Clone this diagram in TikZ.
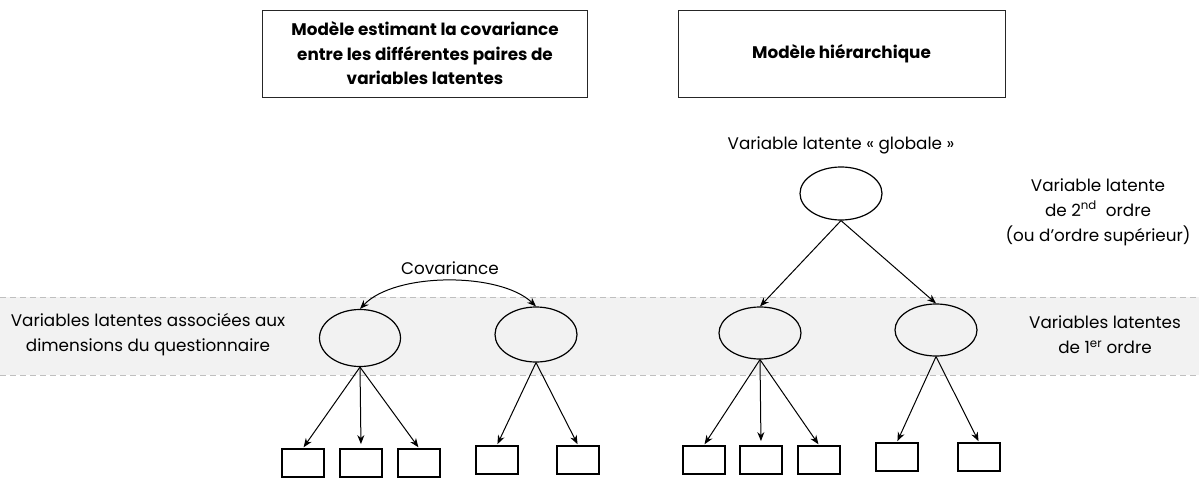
\documentclass[tikz,border=0pt]{standalone}
\usepackage{fontspec}
\setmainfont{Poppins}
\usetikzlibrary{shapes.geometric,arrows.meta}
\definecolor{bandgray}{HTML}{F2F2F2}
\definecolor{dashgray}{HTML}{BFBFBF}
\begin{document}
\begin{tikzpicture}[x=1pt,y=-1pt,
  lat/.style={draw=black,line width=1.2pt,ellipse,inner sep=0pt,minimum width=82pt,minimum height=52pt},
  obs/.style={draw=black,line width=1.8pt,rectangle,inner sep=0pt,minimum width=42pt,minimum height=28pt},
  titlebox/.style={draw=black!85,line width=0.9pt,rectangle,inner sep=0pt,minimum width=325pt,minimum height=87pt,align=center,font=\fontsize{16.8}{24.5}\selectfont\bfseries},
  lbl/.style={align=center,font=\fontsize{16.8}{25}\selectfont,inner sep=0pt},
  arr/.style={-{Stealth[length=9pt,width=7pt]},line width=1pt},
]
\useasboundingbox (0,0) rectangle (1199,479);
% band
\fill[bandgray] (0,297) rectangle (1199,375);
\draw[dashgray,line width=0.9pt,dash pattern=on 6pt off 4pt] (0,297) -- (1199,297);
\draw[dashgray,line width=0.9pt,dash pattern=on 6pt off 4pt] (0,375) -- (1199,375);

% title boxes
\node[titlebox] (t1) at (425,53.5) {Modèle estimant la covariance\\entre les différentes paires de\\variables latentes};
\node[titlebox,minimum width=327pt] (t2) at (841.5,53.5) {Modèle hiérarchique};

% labels
\node[lbl] (lg) at (841,145) {Variable latente «~globale~»};
\node[lbl] (l2) at (1098,212) {Variable latente\\de 2\textsuperscript{nd}~ ordre\\(ou d’ordre supérieur)};
\node[lbl] (l1) at (1105,335) {Variables latentes\\de 1\textsuperscript{er} ordre};
\node[lbl] (ld) at (148,335) {Variables latentes associées aux\\dimensions du questionnaire};
\node[lbl] (lc) at (450,268) {Covariance};

% latent variables
\node[lat,minimum width=81pt,minimum height=57pt] (e1) at (360,338) {};
\node[lat,minimum height=55pt] (e2) at (536,334.5) {};
\node[lat] (e3) at (760,333) {};
\node[lat] (e4) at (936,330) {};
\node[lat,minimum height=53pt] (eg) at (841,193.5) {};

% observed
\node[obs] (a1) at (303,463) {};
\node[obs] (a2) at (361,463) {};
\node[obs] (a3) at (419,463) {};
\node[obs] (a4) at (497,460) {};
\node[obs] (a5) at (578,460) {};
\node[obs] (b1) at (704,460) {};
\node[obs] (b2) at (761,460) {};
\node[obs] (b3) at (819,460) {};
\node[obs] (b4) at (897,457) {};
\node[obs] (b5) at (979,457) {};

% arrows left model
\draw[arr,{Stealth[length=9pt,width=7pt]}-{Stealth[length=9pt,width=7pt]}] (e1.north) .. controls (395,272) and (500,272) .. (e2.north);
\draw[arr,shorten >=1pt] (e1.south) -- (a1.north);
\draw[arr,shorten >=4pt] (e1.south) -- (a2.north);
\draw[arr,shorten >=1pt] (e1.south) -- (a3.north);
\draw[arr,shorten >=1pt] (e2.south) -- (a4.north);
\draw[arr,shorten >=1pt] (e2.south) -- (a5.north);

% arrows right model
\draw[arr] (eg.south) -- (e3.north);
\draw[arr] (eg.south) -- (e4.north);
\draw[arr,shorten >=1pt] (e3.south) -- (b1.north);
\draw[arr,shorten >=4pt] (e3.south) -- (b2.north);
\draw[arr,shorten >=1pt] (e3.south) -- (b3.north);
\draw[arr,shorten >=1pt] (e4.south) -- (b4.north);
\draw[arr,shorten >=1pt] (e4.south) -- (b5.north);
\end{tikzpicture}
\end{document}
